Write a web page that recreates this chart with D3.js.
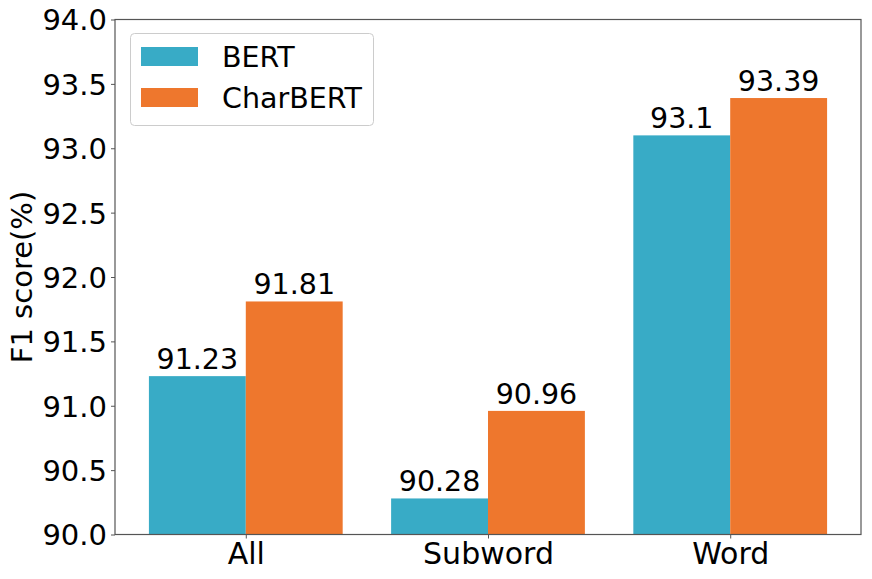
<!DOCTYPE html>
<html><head><meta charset="utf-8">
<script src="https://cdn.jsdelivr.net/npm/d3@7"></script>
<style>body{margin:0;background:#fff}svg{display:block}text{font-family:"DejaVu Sans",sans-serif}</style>
</head><body><svg id="c" width="872" height="579"></svg>
<script>
const categories = ["All", "Subword", "Word"];
const seriesNames = ["BERT", "CharBERT"];
const bertValues = [91.23, 90.28, 93.1];
const charbertValues = [91.81, 90.96, 93.39];
const valueLabels = [["91.23", "90.28", "93.1"], ["91.81", "90.96", "93.39"]];
const yTicks = [90.0, 90.5, 91.0, 91.5, 92.0, 92.5, 93.0, 93.5, 94.0];
const colors = ["#38abc6", "#ee772d"];

const svg = d3.select("#c");
const L = 115, R = 861, T = 19.5, B = 534.5;
const x = d3.scaleLinear().domain([-0.54, 2.54]).range([L, R]);
const y = d3.scaleLinear().domain([90, 94]).range([B, T]);
const bw = 0.4;
const series = [bertValues, charbertValues];

series.forEach((vals, s) => {
  const g = svg.append("g");
  g.selectAll("rect").data(vals).join("rect")
    .attr("x", (d, i) => x(i + (s === 0 ? -bw : 0)))
    .attr("width", x(bw) - x(0))
    .attr("y", d => y(d))
    .attr("height", d => y(90) - y(d))
    .attr("fill", colors[s]);
  g.selectAll("text").data(vals).join("text")
    .attr("x", (d, i) => x(i + (s === 0 ? -bw / 2 : bw / 2)))
    .attr("y", d => y(d) - 7)
    .attr("text-anchor", "middle")
    .attr("font-size", 28.5)
    .attr("fill", "#000")
    .text((d, i) => valueLabels[s][i]);
});

// frame
svg.append("rect").attr("x", L).attr("y", T).attr("width", R - L).attr("height", B - T)
  .attr("fill", "none").attr("stroke", "#555").attr("stroke-width", 1.2);

const yAxis = svg.append("g").attr("transform", `translate(${L},0)`)
  .call(d3.axisLeft(y).tickValues(yTicks).tickFormat(d3.format(".1f")).tickSizeOuter(0).tickSize(4).tickPadding(4));
yAxis.select(".domain").remove();
yAxis.selectAll("line").attr("stroke", "#555");
yAxis.selectAll("text").attr("font-size", 29).attr("fill", "#000").attr("font-family", "DejaVu Sans").attr("dy", "0.36em");

const xAxis = svg.append("g").attr("transform", `translate(0,${B})`)
  .call(d3.axisBottom(x).tickValues([0, 1, 2]).tickFormat(i => categories[i]).tickSizeOuter(0).tickSize(4).tickPadding(4));
xAxis.select(".domain").remove();
xAxis.selectAll("line").attr("stroke", "#555");
xAxis.selectAll("text").attr("font-size", 30).attr("fill", "#000").attr("font-family", "DejaVu Sans");

svg.append("text").attr("transform", `translate(32,${(T + B) / 2}) rotate(-90)`)
  .attr("text-anchor", "middle").attr("font-size", 29).attr("fill", "#000").text("F1 score(%)");

// legend
const lg = svg.append("g");
lg.append("rect").attr("x", 130.5).attr("y", 33.5).attr("width", 243).attr("height", 92).attr("rx", 4)
  .attr("fill", "#fff").attr("fill-opacity", 0.8).attr("stroke", "#ccc");
seriesNames.forEach((n, i) => {
  lg.append("rect").attr("x", 141).attr("y", 47 + i * 41).attr("width", 57).attr("height", 19).attr("fill", colors[i]);
  lg.append("text").attr("x", 222).attr("y", 67 + i * 41).attr("font-size", 28.5).attr("fill", "#000").text(n);
});
</script></body></html>
